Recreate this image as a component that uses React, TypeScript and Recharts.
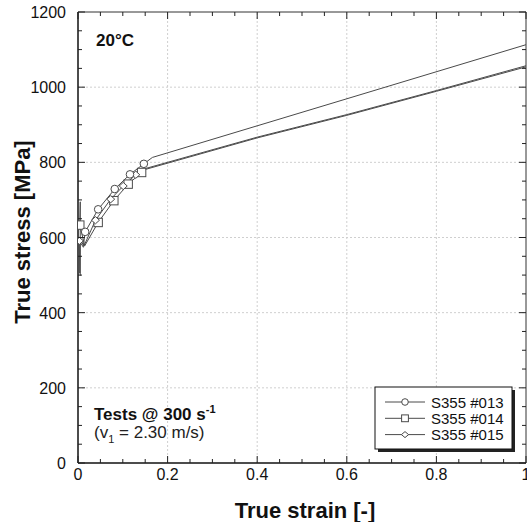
import { ComposedChart, Line, Scatter, XAxis, YAxis, ReferenceLine } from 'recharts'

// S355 #013 (circles)
const strain013 = [0.004, 0.005, 0.012, 0.016, 0.045, 0.082, 0.116, 0.147, 0.166, 1.0]
const stress013 = [505, 600, 578, 615, 675, 729, 768, 796, 813, 1113]
const markStrain013 = [0.016, 0.045, 0.082, 0.116, 0.147]
const markStress013 = [615, 675, 729, 768, 796]

// S355 #014 (squares)
const strain014 = [0.005, 0.005, 0.004, 0.015, 0.045, 0.08, 0.112, 0.142, 0.152, 0.4, 0.6, 0.8, 1.0]
const stress014 = [498, 695, 633, 578, 640, 698, 742, 773, 784, 867, 927, 991, 1057]
const markStrain014 = [0.004, 0.045, 0.08, 0.112, 0.142]
const markStress014 = [633, 640, 698, 742, 773]

// S355 #015 (diamonds)
const strain015 = [0.004, 0.003, 0.012, 0.039, 0.073, 0.101, 0.129, 0.15, 0.4, 0.6, 0.8, 1.0]
const stress015 = [505, 591, 574, 646, 702, 737, 767, 781, 865, 925, 989, 1054]
const markStrain015 = [0.003, 0.039, 0.073, 0.101, 0.129]
const markStress015 = [591, 646, 702, 737, 767]

const xTicks = [0, 0.05, 0.1, 0.15, 0.2, 0.25, 0.3, 0.35, 0.4, 0.45, 0.5, 0.55, 0.6, 0.65, 0.7, 0.75, 0.8, 0.85, 0.9, 0.95, 1]
const xMajor = [0, 0.2, 0.4, 0.6, 0.8, 1]
const xLabels = ['0', '0.2', '0.4', '0.6', '0.8', '1']
const yTicks = [0, 50, 100, 150, 200, 250, 300, 350, 400, 450, 500, 550, 600, 650, 700, 750, 800, 850, 900, 950, 1000, 1050, 1100, 1150, 1200]
const yMajor = [0, 200, 400, 600, 800, 1000, 1200]
const yLabels = ['0', '200', '400', '600', '800', '1000', '1200']
const xGrid = [0.2, 0.4, 0.6, 0.8]
const yGrid = [200, 400, 600, 800, 1000]

const seriesNames = ['S355 #013', 'S355 #014', 'S355 #015']

const W = 527
const H = 522
const AX_H = 30
const AX_W = 40
const M = { top: 12, right: 1, bottom: 59 - AX_H, left: 78 - AX_W }
const PW = W - 78 - M.right
const PH = H - M.top - 59
const FONT = "'Liberation Sans', Arial, sans-serif"
const INK = '#4a4a4a'

const toPoints = (xs: number[], ys: number[]) => xs.map((x, i) => ({ x, y: ys[i] }))

function Circle({ cx, cy, r = 3.8 }: any) {
  return <circle cx={cx} cy={cy} r={r} fill='#fff' stroke={INK} strokeWidth={1} />
}
function Square({ cx, cy, s = 4.2 }: any) {
  return <rect x={cx - s} y={cy - s} width={s * 2} height={s * 2} fill='#fff' stroke={INK} strokeWidth={1} />
}
function Diamond({ cx, cy, w = 4, h = 3.6 }: any) {
  return (
    <path
      d={`M${cx - w},${cy} L${cx},${cy - h} L${cx + w},${cy} L${cx},${cy + h} Z`}
      fill='#fff'
      stroke={INK}
      strokeWidth={1}
    />
  )
}

function XTick({ x, y, payload }: any) {
  const i = xMajor.indexOf(payload.value)
  const len = i >= 0 ? 7 : 4
  return (
    <g>
      <line x1={x} x2={x} y1={y} y2={y - len} stroke='#222' strokeWidth={1} />
      <line x1={x} x2={x} y1={y - PH} y2={y - PH + len} stroke='#222' strokeWidth={1} />
      {i >= 0 && (
        <text x={x} y={y + 17} textAnchor='middle' fontSize={16} fontFamily={FONT} fill='#111'>
          {xLabels[i]}
        </text>
      )}
    </g>
  )
}

function YTick({ x, y, payload }: any) {
  const i = yMajor.indexOf(payload.value)
  const len = i >= 0 ? 7 : 4
  return (
    <g>
      <line x1={x} x2={x + len} y1={y} y2={y} stroke='#222' strokeWidth={1} />
      <line x1={x + PW} x2={x + PW - len} y1={y} y2={y} stroke='#222' strokeWidth={1} />
      {i >= 0 && (
        <text x={x - 12} y={y + 6} textAnchor='end' fontSize={16} fontFamily={FONT} fill='#111'>
          {yLabels[i]}
        </text>
      )}
    </g>
  )
}

export default function App() {
  const d013 = toPoints(strain013, stress013)
  const d014 = toPoints(strain014, stress014)
  const d015 = toPoints(strain015, stress015)
  const m013 = toPoints(markStrain013, markStress013)
  const m014 = toPoints(markStrain014, markStress014)
  const m015 = toPoints(markStrain015, markStress015)
  const legendShapes = [Circle, Square, Diamond]

  return (
    <div style={{ position: 'absolute', left: 0, top: 0, width: W, height: H, background: '#fff', fontFamily: FONT }}>
      <ComposedChart width={W} height={H} margin={M}>
        <XAxis
          dataKey='x'
          type='number'
          domain={[0, 1]}
          ticks={xTicks}
          interval={0}
          height={AX_H}
          tickSize={0}
          tickMargin={0}
          tick={<XTick />}
          tickLine={false}
          axisLine={{ stroke: '#111', strokeWidth: 1.5 }}
          allowDataOverflow
        />
        <YAxis
          type='number'
          domain={[0, 1200]}
          ticks={yTicks}
          interval={0}
          width={AX_W}
          tickSize={0}
          tickMargin={0}
          tick={<YTick />}
          tickLine={false}
          axisLine={{ stroke: '#111', strokeWidth: 1.5 }}
          allowDataOverflow
        />
        {xGrid.map((v) => (
          <ReferenceLine key={'gx' + v} x={v} stroke='#cfcfcf' strokeDasharray='2 2' />
        ))}
        {yGrid.map((v) => (
          <ReferenceLine key={'gy' + v} y={v} stroke='#cfcfcf' strokeDasharray='2 2' />
        ))}
        <ReferenceLine y={1200} stroke='#333' strokeWidth={1} ifOverflow='visible' />
        <ReferenceLine x={1} stroke='#333' strokeWidth={1} ifOverflow='visible' />
        <Line data={d013} dataKey='y' type='linear' stroke={INK} strokeWidth={1} dot={false} isAnimationActive={false} />
        <Line data={d014} dataKey='y' type='linear' stroke={INK} strokeWidth={1} dot={false} isAnimationActive={false} />
        <Line data={d015} dataKey='y' type='linear' stroke={INK} strokeWidth={1} dot={false} isAnimationActive={false} />
        <Scatter data={m014} dataKey='y' shape={(p: any) => <Square cx={p.cx} cy={p.cy} />} isAnimationActive={false} />
        <Scatter data={m015} dataKey='y' shape={(p: any) => <Diamond cx={p.cx} cy={p.cy} />} isAnimationActive={false} />
        <Scatter data={m013} dataKey='y' shape={(p: any) => <Circle cx={p.cx} cy={p.cy} />} isAnimationActive={false} />
      </ComposedChart>

      <svg width={W} height={H} style={{ position: 'absolute', left: 0, top: 0, pointerEvents: 'none' }}>
        <text x={96} y={46} fontSize={17} fontWeight='bold' fontFamily={FONT} fill='#111'>
          20°C
        </text>
        <text x={94} y={420} fontSize={17} fontWeight='bold' fontFamily={FONT} fill='#111'>
          Tests @ 300 s
          <tspan fontSize={11} dy={-7}>-1</tspan>
        </text>
        <text x={94} y={438} fontSize={17} fontFamily={FONT} fill='#222'>
          (v
          <tspan fontSize={11} dy={5}>1</tspan>
          <tspan dy={-5}> = 2.30 m/s)</tspan>
        </text>

        <rect x={378} y={390} width={137} height={62} fill='#222' />
        <rect x={375} y={387} width={137} height={62} fill='#fff' stroke='#111' strokeWidth={1} />
        {seriesNames.map((name, i) => {
          const Shape = legendShapes[i]
          const cy = 402 + i * 16.3
          return (
            <g key={name}>
              <line x1={385} x2={425} y1={cy} y2={cy} stroke={INK} strokeWidth={1} />
              <Shape cx={405} cy={cy} r={3.3} s={3.4} w={3.6} h={3} />
              <text x={431} y={cy + 5.5} fontSize={15} fontFamily={FONT} fill='#111'>
                {name}
              </text>
            </g>
          )
        })}

        <text x={305} y={518} textAnchor='middle' fontSize={22} fontWeight='bold' fontFamily={FONT} fill='#111'>
          True strain [-]
        </text>
        <text
          x={0}
          y={0}
          transform='translate(30,232) rotate(-90)'
          textAnchor='middle'
          fontSize={22}
          fontWeight='bold'
          fontFamily={FONT}
          fill='#111'
        >
          True stress [MPa]
        </text>
      </svg>
    </div>
  )
}
